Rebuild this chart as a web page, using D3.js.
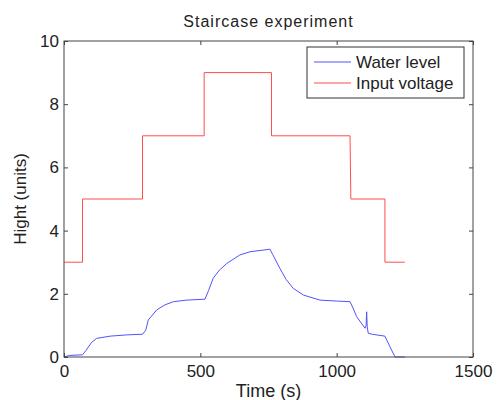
<!DOCTYPE html>
<html>
<head>
<meta charset="utf-8">
<script src="https://cdn.jsdelivr.net/npm/d3@7"></script>
<style>
  body { margin: 0; background: #fff; }
  svg text { font-family: 'Liberation Sans', Arial, sans-serif; fill: #222; }
</style>
</head>
<body>
<div id="chart"></div>
<script>
const width = 497
const height = 400
const margin = { top: 41, right: 24, bottom: 43, left: 64 }

const xTicks = [0, 500, 1000, 1500]
const yTicks = [0, 2, 4, 6, 8, 10]

// input voltage staircase: [time, value]
const voltageTime = [0, 68, 68, 288, 288, 514, 514, 761, 761, 1049, 1052, 1177, 1177, 1250]
const voltageValue = [3, 3, 5, 5, 7, 7, 9, 9, 7, 7, 5, 5, 3, 3]

// water level: [time, value]
const waterTime = [0, 20, 68, 80, 100, 120, 169, 230, 288, 300, 309, 340, 370, 401, 450, 517, 530, 547, 570, 597, 645, 682, 755, 765, 792, 815, 841, 878, 939, 1000, 1049, 1060, 1073, 1104, 1108, 1110, 1112, 1116, 1130, 1177, 1195, 1214, 1250]
const waterValue = [0, 0.05, 0.07, 0.2, 0.45, 0.59, 0.66, 0.7, 0.72, 0.85, 1.17, 1.49, 1.65, 1.75, 1.8, 1.83, 2.1, 2.49, 2.75, 2.96, 3.23, 3.33, 3.41, 3.25, 2.8, 2.45, 2.17, 1.96, 1.8, 1.77, 1.75, 1.55, 1.28, 0.91, 1.0, 1.43, 0.95, 0.75, 0.72, 0.66, 0.33, 0, 0]

const series = [
  { name: 'Water level', color: '#5252ff', t: waterTime, v: waterValue },
  { name: 'Input voltage', color: '#ff4d4d', t: voltageTime, v: voltageValue }
]

const svg = d3.select('#chart').append('svg')
  .attr('width', width)
  .attr('height', height)

const x = d3.scaleLinear().domain([0, 1500]).range([margin.left, width - margin.right])
const y = d3.scaleLinear().domain([0, 10]).range([height - margin.bottom, margin.top])

const line = d3.line()
  .x(d => x(d[0]))
  .y(d => y(d[1]))

series.forEach(s => {
  svg.append('path')
    .datum(s.t.map((t, i) => [t, s.v[i]]))
    .attr('fill', 'none')
    .attr('stroke', s.color)
    .attr('stroke-width', 1)
    .attr('d', line)
})

// axes (matlab box with inward ticks)
const axisStyle = g => {
  g.select('.domain').remove()
  g.selectAll('.tick line').attr('stroke', '#444')
  g.selectAll('.tick text').style('font-size', '17px').attr('fill', '#222')
}

svg.append('g')
  .attr('transform', `translate(0,${y(0)})`)
  .call(d3.axisBottom(x).tickValues(xTicks).tickFormat(d3.format('d')).tickSizeInner(-4).tickSizeOuter(0).tickPadding(8))
  .call(axisStyle)

svg.append('g')
  .attr('transform', `translate(0,${y(10)})`)
  .call(d3.axisTop(x).tickValues(xTicks).tickSizeInner(-4).tickSizeOuter(0).tickFormat(''))
  .call(axisStyle)

svg.append('g')
  .attr('transform', `translate(${x(0)},0)`)
  .call(d3.axisLeft(y).tickValues(yTicks).tickSizeInner(-4).tickSizeOuter(0).tickPadding(5))
  .call(axisStyle)

svg.append('g')
  .attr('transform', `translate(${x(1500)},0)`)
  .call(d3.axisRight(y).tickValues(yTicks).tickSizeInner(-4).tickSizeOuter(0).tickFormat(''))
  .call(axisStyle)

svg.append('rect')
  .attr('x', x(0))
  .attr('y', y(10))
  .attr('width', x(1500) - x(0))
  .attr('height', y(0) - y(10))
  .attr('fill', 'none')
  .attr('stroke', '#444')

// title and labels
svg.append('text')
  .attr('x', (x(0) + x(1500)) / 2)
  .attr('y', 27)
  .attr('text-anchor', 'middle')
  .style('font-size', '16px')
  .style('letter-spacing', '1px')
  .text('Staircase experiment')

svg.append('text')
  .attr('x', (x(0) + x(1500)) / 2)
  .attr('y', 397)
  .attr('text-anchor', 'middle')
  .style('font-size', '18px')
  .text('Time (s)')

svg.append('text')
  .attr('transform', `translate(26,${(y(0) + y(10)) / 2}) rotate(-90)`)
  .attr('text-anchor', 'middle')
  .style('font-size', '17px')
  .text('Hight (units)')

// legend
const legend = svg.append('g').attr('transform', 'translate(307,47)')
legend.append('rect')
  .attr('width', 157)
  .attr('height', 51)
  .attr('fill', '#fff')
  .attr('stroke', '#333')

series.forEach((s, i) => {
  const row = legend.append('g').attr('transform', `translate(0,${15 + i * 21})`)
  row.append('line')
    .attr('x1', 7).attr('x2', 44)
    .attr('stroke', s.color)
  row.append('text')
    .attr('x', 49)
    .attr('dy', '0.35em')
    .style('font-size', '17px')
    .text(s.name)
})
</script>
</body>
</html>
